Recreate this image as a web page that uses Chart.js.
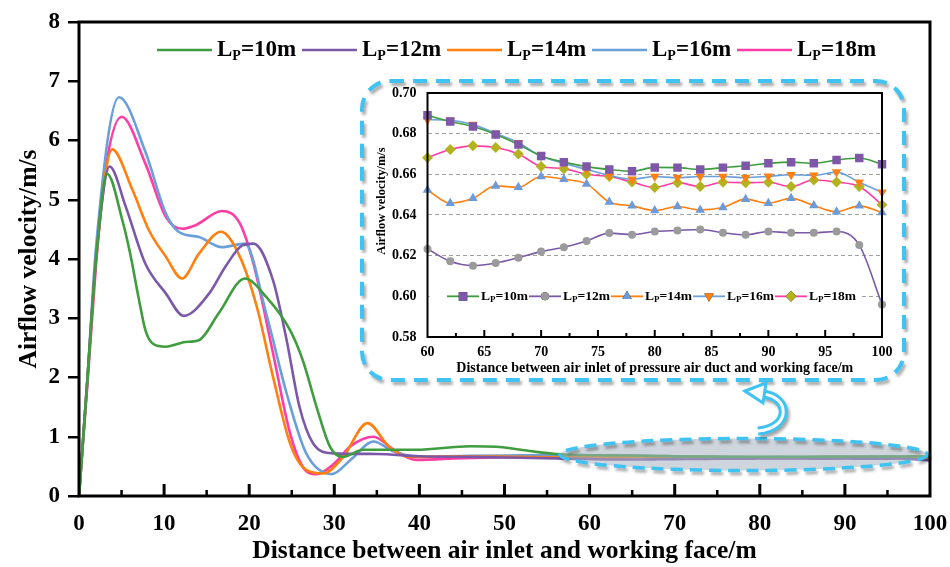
<!DOCTYPE html>
<html>
<head>
<meta charset="utf-8">
<title>Airflow velocity</title>
<script src="https://cdn.jsdelivr.net/npm/chart.js@4/dist/chart.umd.min.js"></script>
<style>
  html, body { margin: 0; padding: 0; background: #fff; }
  #wrap { position: relative; width: 950px; height: 567px; }
  #mainChart { position: absolute; left: 0; top: 0; }
  #insetChart { position: absolute; left: 360px; top: 78px; }
</style>
</head>
<body>
<div id="wrap">
  <canvas id="mainChart" width="950" height="567"></canvas>
  <canvas id="insetChart" width="550" height="306"></canvas>
</div>
<script>
const SERIF = '"Liberation Serif", "Times New Roman", serif';

// duct lengths L_P (m)
const ductLengths = ["10", "12", "14", "16", "18"];

// whole tunnel, 0-56 m (key points along each curve)
const mainX10 = [0, 1, 2, 3.3, 5.1, 6.0, 7.0, 7.8, 8.7, 10.2, 12.5, 14.1, 16.4, 19.5, 22.0, 24.8, 26.3, 27.9, 29.5, 31.0, 33.4, 39.6, 46, 49, 52.9, 56];
const mainV10 = [0, 2.0, 4.0, 5.44, 4.65, 4.1, 3.35, 2.8, 2.57, 2.52, 2.60, 2.63, 3.08, 3.67, 3.36, 2.80, 2.29, 1.51, 0.83, 0.66, 0.78, 0.78, 0.84, 0.83, 0.76, 0.71];

const mainX12 = [0, 1, 2, 3.6, 5.5, 7.8, 10.2, 12.3, 15.3, 17.2, 19.2, 20.5, 22.8, 24.4, 25.9, 27.5, 29.8, 35, 40, 46, 52, 56];
const mainV12 = [0, 2.0, 4.0, 5.56, 4.88, 3.92, 3.42, 3.04, 3.42, 3.87, 4.23, 4.26, 3.64, 2.63, 1.51, 0.89, 0.72, 0.71, 0.67, 0.66, 0.645, 0.635];

const mainX14 = [0, 1, 2, 3.9, 6.3, 8.2, 10.2, 12.1, 14.1, 16.7, 18.9, 20.9, 22.8, 24.8, 26.7, 28.7, 31, 33.9, 36.5, 39, 45, 52, 56];
const mainV14 = [0, 2.0, 4.0, 5.85, 5.16, 4.49, 4.04, 3.67, 4.09, 4.46, 4.04, 3.19, 2.01, 0.89, 0.44, 0.38, 0.65, 1.23, 0.82, 0.66, 0.67, 0.66, 0.655];

const mainX16 = [0, 1, 2, 4.7, 7.8, 10.2, 11.7, 14.1, 16.8, 19.5, 22.0, 24.4, 26.7, 29.7, 32, 34.6, 37, 40, 46, 52, 56];
const mainV16 = [0, 2.0, 4.2, 6.73, 5.81, 4.77, 4.46, 4.37, 4.20, 4.26, 3.08, 1.73, 0.72, 0.37, 0.62, 0.92, 0.75, 0.66, 0.68, 0.685, 0.688];

const mainX18 = [0, 1, 2, 3, 5.0, 7.8, 10.2, 12.1, 13.7, 16.8, 18.9, 20.5, 22.8, 24.8, 26.3, 27.9, 30, 32, 34.6, 37, 39.6, 45, 52, 56];
const mainV18 = [0, 1.9, 3.9, 5.4, 6.40, 5.61, 4.71, 4.51, 4.57, 4.81, 4.6, 3.92, 2.41, 1.06, 0.49, 0.37, 0.55, 0.85, 1.0, 0.78, 0.61, 0.64, 0.66, 0.665];

// pressure duct section, 60-100 m
const insetX = [60, 62, 64, 66, 68, 70, 72, 74, 76, 78, 80, 82, 84, 86, 88, 90, 92, 94, 96, 98, 100];
const insetV10 = [0.689, 0.686, 0.6835, 0.6796, 0.6747, 0.669, 0.666, 0.6638, 0.6624, 0.6615, 0.6634, 0.6633, 0.6624, 0.6633, 0.6642, 0.6654, 0.666, 0.6654, 0.667, 0.668, 0.665];
const insetV12 = [0.6233, 0.6172, 0.6151, 0.6164, 0.619, 0.622, 0.6241, 0.6272, 0.6311, 0.6303, 0.6319, 0.6324, 0.6329, 0.6313, 0.6303, 0.6319, 0.6313, 0.6313, 0.6319, 0.6252, 0.596];
const insetV14 = [0.6523, 0.6458, 0.6482, 0.6543, 0.6536, 0.6589, 0.6576, 0.6553, 0.6464, 0.6445, 0.6422, 0.6442, 0.6425, 0.6437, 0.6478, 0.6458, 0.6482, 0.6447, 0.6416, 0.6445, 0.6412];
const insetV16 = [0.6869, 0.6866, 0.6845, 0.6801, 0.6755, 0.669, 0.6654, 0.6624, 0.6595, 0.6576, 0.6589, 0.6584, 0.6589, 0.6589, 0.6584, 0.659, 0.6598, 0.6595, 0.6611, 0.6561, 0.6512];
const insetV18 = [0.6682, 0.6722, 0.674, 0.6732, 0.67, 0.6639, 0.6628, 0.66, 0.6589, 0.6562, 0.6535, 0.6559, 0.654, 0.6561, 0.6559, 0.6561, 0.654, 0.6572, 0.6562, 0.654, 0.6451];

const mainXs = [mainX10, mainX12, mainX14, mainX16, mainX18];
const mainVs = [mainV10, mainV12, mainV14, mainV16, mainV18];
const insetVs = [insetV10, insetV12, insetV14, insetV16, insetV18];

const lineColors = ["#3f9d3f", "#7b59a8", "#ff7f0f", "#6b9fd9", "#ff3da6"];
const markerColors = ["#7e57aa", "#9b9b9b", "#6b9bd8", "#ff7f0f", "#b3b31f"];
const markerStyles = ["rect", "circle", "triangle", "triangle", "rectRot"];
const markerRotation = [0, 0, 0, 180, 0];
const markerRadius = [6, 4, 5.5, 5.5, 5.5];
const cyan = "#3ec3f2";

// axes get their exact size; the label overhang is handled by layout.padding
function fixSize(w, h) {
  return s => {
    if (w) s.width = w;
    if (h) s.height = h;
    s.paddingLeft = s.paddingRight = s.paddingTop = s.paddingBottom = 0;
  };
}

// "L" + subscript "P" + "=10m"
function drawLp(ctx, x, y, len, size, subSize) {
  ctx.textBaseline = "middle";
  ctx.textAlign = "left";
  ctx.fillStyle = "#000";
  ctx.font = "bold " + size + "px " + SERIF;
  ctx.fillText("L", x, y);
  let w = ctx.measureText("L").width;
  ctx.font = "bold " + subSize + "px " + SERIF;
  ctx.fillText("P", x + w, y + size * 0.28);
  w += ctx.measureText("P").width;
  ctx.font = "bold " + size + "px " + SERIF;
  ctx.fillText("=" + len + "m", x + w, y);
}

// inward tick marks on a horizontal scale
function innerTicks(ctx, scale, bottom, from, to, step, len, width) {
  ctx.strokeStyle = "#000";
  ctx.lineWidth = width;
  for (let v = from; v <= to + 1e-9; v += step) {
    const px = scale.getPixelForValue(v);
    ctx.beginPath();
    ctx.moveTo(px, bottom);
    ctx.lineTo(px, bottom - len);
    ctx.stroke();
  }
}

const mainDecor = {
  id: "mainDecor",
  afterDatasetsDraw(chart) {
    const ctx = chart.ctx;
    const x = chart.scales.x, y = chart.scales.y;
    // highlighted tail section 56-100 m
    const x0 = x.getPixelForValue(56.5), x1 = x.getPixelForValue(99.7);
    const cy = y.getPixelForValue(0.7);
    ctx.save();
    ctx.beginPath();
    ctx.ellipse((x0 + x1) / 2, cy, (x1 - x0) / 2, 16, 0, 0, Math.PI * 2);
    ctx.fillStyle = "rgba(168,178,192,0.55)";
    ctx.fill();
    ctx.shadowColor = "rgba(0,0,0,0.35)";
    ctx.shadowBlur = 3;
    ctx.shadowOffsetX = 2;
    ctx.shadowOffsetY = 3;
    ctx.setLineDash([12, 7]);
    ctx.lineWidth = 3.5;
    ctx.strokeStyle = cyan;
    ctx.stroke();
    ctx.restore();
  },
  afterDraw(chart) {
    const ctx = chart.ctx;
    const a = chart.chartArea;
    const x = chart.scales.x;
    ctx.save();
    // frame
    ctx.strokeStyle = "#000";
    ctx.lineWidth = 3;
    ctx.strokeRect(a.left, a.top, a.right - a.left, a.bottom - a.top);
    innerTicks(ctx, x, a.bottom, 10, 90, 10, 12, 3);
    innerTicks(ctx, x, a.bottom, 5, 95, 10, 6, 2.5);

    // legend
    ductLengths.forEach((len, i) => {
      const lx = 157 + i * 145, ly = 50;
      ctx.strokeStyle = lineColors[i];
      ctx.lineWidth = 2.6;
      ctx.beginPath();
      ctx.moveTo(lx, ly);
      ctx.lineTo(lx + 55, ly);
      ctx.stroke();
      drawLp(ctx, lx + 60, ly, len, 23, 14);
    });

    // dashed box round the zoomed view
    ctx.shadowColor = "rgba(0,0,0,0.35)";
    ctx.shadowBlur = 3;
    ctx.shadowOffsetX = 2;
    ctx.shadowOffsetY = 3;
    ctx.setLineDash([14, 9]);
    ctx.lineWidth = 4;
    ctx.strokeStyle = cyan;
    ctx.beginPath();
    ctx.roundRect(362, 81, 542, 299, 28);
    ctx.stroke();
    ctx.setLineDash([]);

    // curved arrow from the ellipse up to the box
    const shaft = () => {
      ctx.beginPath();
      ctx.moveTo(758, 431);
      ctx.bezierCurveTo(792, 428, 790, 396, 762, 394);
    };
    ctx.strokeStyle = cyan;
    ctx.lineWidth = 9;
    shaft();
    ctx.stroke();
    ctx.shadowColor = "transparent";
    ctx.strokeStyle = "#fff";
    ctx.lineWidth = 3;
    shaft();
    ctx.stroke();
    ctx.beginPath();
    ctx.moveTo(745, 391);
    ctx.lineTo(766, 383);
    ctx.lineTo(763, 403);
    ctx.closePath();
    ctx.fillStyle = "#fff";
    ctx.fill();
    ctx.lineWidth = 3;
    ctx.strokeStyle = cyan;
    ctx.stroke();
    ctx.restore();
  }
};

const mainChart = new Chart(document.getElementById("mainChart"), {
  type: "line",
  data: {
    datasets: ductLengths.map((len, i) => ({
      label: "LP=" + len + "m",
      data: mainXs[i].map((v, j) => ({ x: v, y: mainVs[i][j] }))
        .concat(insetX.map((v, j) => ({ x: v, y: insetVs[i][j] }))),
      borderColor: lineColors[i],
      borderWidth: 2.6,
      pointRadius: 0,
      fill: false,
      cubicInterpolationMode: "monotone"
    }))
  },
  options: {
    responsive: false,
    animation: false,
    layout: { padding: { top: 22, right: 20, left: 0, bottom: 0 } },
    plugins: { legend: { display: false }, tooltip: { enabled: false } },
    scales: {
      x: {
        type: "linear",
        min: 0,
        max: 100,
        afterFit: fixSize(0, 71),
        ticks: { stepSize: 10, padding: 14, color: "#000", font: { family: SERIF, size: 23, weight: "bold" } },
        grid: { display: false, drawTicks: false },
        border: { display: false },
        title: {
          display: true,
          text: "Distance between air inlet and working face/m",
          color: "#000",
          font: { family: SERIF, size: 25.5, weight: "bold" },
          padding: { top: 0, bottom: 0 }
        }
      },
      y: {
        min: 0,
        max: 8,
        afterFit: fixSize(79, 0),
        ticks: { stepSize: 1, padding: 8, color: "#000", font: { family: SERIF, size: 23, weight: "bold" } },
        grid: { drawOnChartArea: false, tickLength: 11, color: "#000", lineWidth: 2.5 },
        border: { display: false },
        title: {
          display: true,
          text: "Airflow velocity/m/s",
          color: "#000",
          font: { family: SERIF, size: 25.5, weight: "bold" },
          padding: { top: 14, bottom: 0 }
        }
      }
    }
  },
  plugins: [mainDecor]
});

const insetDecor = {
  id: "insetDecor",
  beforeDatasetsDraw(chart) {
    // clear the 0.60 grid line behind the legend row
    const ctx = chart.ctx;
    const a = chart.chartArea;
    const ly = chart.scales.y.getPixelForValue(0.6);
    ctx.save();
    ctx.fillStyle = "#fff";
    ctx.fillRect(a.left + 2, ly - 8, 500 - a.left, 16);
    ctx.restore();
  },
  afterDraw(chart) {
    const ctx = chart.ctx;
    const a = chart.chartArea;
    const x = chart.scales.x;
    ctx.save();
    ctx.strokeStyle = "#000";
    ctx.lineWidth = 2;
    ctx.strokeRect(a.left, a.top, a.right - a.left, a.bottom - a.top);
    innerTicks(ctx, x, a.bottom, 65, 95, 5, 7, 2);
    innerTicks(ctx, x, a.bottom, 62.5, 97.5, 5, 4, 2);

    // y title
    ctx.translate(22, 123);
    ctx.rotate(-Math.PI / 2);
    ctx.font = "bold 12.5px " + SERIF;
    ctx.fillStyle = "#000";
    ctx.textAlign = "center";
    ctx.textBaseline = "middle";
    ctx.fillText("Airflow velocity/m/s", 0, 0);
    ctx.setTransform(1, 0, 0, 1, 0, 0);

    // legend row
    const ly = chart.scales.y.getPixelForValue(0.6);
    ductLengths.forEach((len, i) => {
      const lx = 87 + i * 82;
      ctx.strokeStyle = lineColors[i];
      ctx.lineWidth = 1.8;
      ctx.beginPath();
      ctx.moveTo(lx, ly);
      ctx.lineTo(lx + 32, ly);
      ctx.stroke();
      Chart.helpers.drawPoint(ctx, {
        pointStyle: markerStyles[i],
        rotation: markerRotation[i],
        radius: markerRadius[i],
        borderWidth: 0
      }, lx + 16, ly);
      ctx.fillStyle = markerColors[i];
      ctx.fill();
      drawLp(ctx, lx + 34, ly, len, 13.5, 9);
    });
    ctx.restore();
  }
};

const insetChart = new Chart(document.getElementById("insetChart"), {
  type: "line",
  data: {
    datasets: ductLengths.map((len, i) => ({
      label: "LP=" + len + "m",
      data: insetX.map((v, j) => ({ x: v, y: insetVs[i][j] })),
      borderColor: lineColors[i],
      borderWidth: 1.6,
      pointStyle: markerStyles[i],
      rotation: markerRotation[i],
      pointRadius: markerRadius[i],
      pointBackgroundColor: markerColors[i],
      pointBorderColor: markerColors[i],
      pointBorderWidth: 0,
      fill: false,
      cubicInterpolationMode: "monotone",
      clip: 8
    }))
  },
  options: {
    responsive: false,
    animation: false,
    layout: { padding: { top: 15, right: 28, left: 0, bottom: 0 } },
    plugins: { legend: { display: false }, tooltip: { enabled: false } },
    scales: {
      x: {
        type: "linear",
        min: 60,
        max: 100,
        afterFit: fixSize(0, 47),
        ticks: { stepSize: 5, padding: 7, color: "#000", font: { family: SERIF, size: 14, weight: "bold" } },
        grid: { display: false, drawTicks: false },
        border: { display: false },
        title: {
          display: true,
          text: "Distance between air inlet of pressure air duct and working face/m",
          color: "#000",
          font: { family: SERIF, size: 14, weight: "bold" },
          padding: { top: 0, bottom: 7 }
        }
      },
      y: {
        min: 0.58,
        max: 0.70,
        afterFit: fixSize(67.5, 0),
        ticks: {
          stepSize: 0.02,
          padding: 11,
          color: "#000",
          font: { family: SERIF, size: 14, weight: "bold" },
          callback: v => v.toFixed(2)
        },
        grid: {
          drawTicks: false,
          lineWidth: 1,
          color: c => (c.tick && (Math.abs(c.tick.value - 0.58) < 1e-6 || Math.abs(c.tick.value - 0.70) < 1e-6)) ? "rgba(0,0,0,0)" : "#a0a0a0"
        },
        border: { display: false, dash: [4, 3] }
      }
    }
  },
  plugins: [insetDecor]
});
</script>
</body>
</html>
